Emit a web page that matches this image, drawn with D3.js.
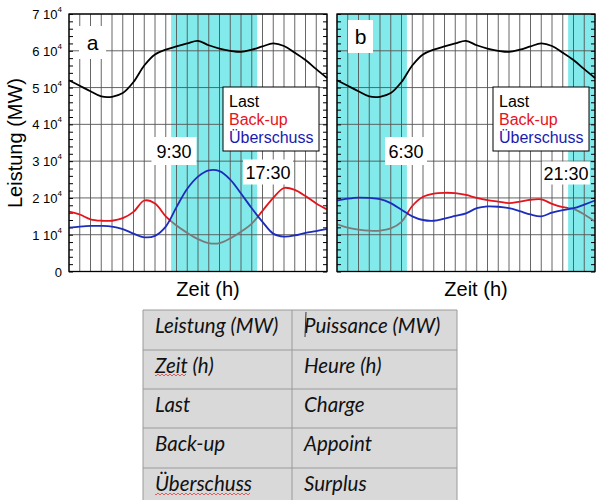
<!DOCTYPE html>
<html>
<head>
<meta charset="utf-8">
<script src="https://cdn.jsdelivr.net/npm/d3@7"></script>
<style>
  body { margin: 0; background: #fff; }
  svg { display: block; }
</style>
</head>
<body>
<div id="chart"></div>
<script>
// hours of the day
const hours = [0, 1, 2, 3, 4, 5, 6, 7, 8, 9, 10, 11, 12, 13, 14, 15, 16, 17, 18, 19, 20, 21, 22, 23, 24];

// load (MW), same in both panels
const last = [52000, 50500, 49000, 47600, 47500, 48500, 51500, 56000, 59000, 60300, 61200, 62000, 62700,
  61500, 60600, 60000, 59700, 60300, 61200, 62000, 61300, 59500, 57500, 55000, 52600];

// panel a
const backupA = [16300, 15500, 14200, 13800, 13800, 14500, 16200, 19300, 18500, 15000, 12500, 10500, 8800,
  7700, 7700, 9000, 10800, 13000, 16500, 20000, 22700, 22200, 20500, 18500, 16900];
const surplusA = [11900, 12200, 12400, 12400, 12200, 11500, 10300, 9300, 9700, 12200, 17500, 22500, 25800,
  27500, 27300, 25000, 21200, 17200, 13500, 10300, 9500, 9800, 10500, 11000, 11600];

// panel b
const backupB = [12800, 11900, 11400, 11100, 11100, 11700, 13500, 17800, 20300, 21200, 21400, 21300, 20800,
  20000, 19400, 19000, 18600, 19000, 19500, 19600, 18400, 17500, 17000, 15500, 13600];
const surplusB = [19300, 19800, 20100, 20000, 19700, 18600, 16800, 15000, 14000, 13800, 14400, 15100, 15800,
  17200, 17700, 17600, 17200, 16400, 15500, 15000, 16000, 16700, 17200, 18200, 19300];

// surplus periods (h)
const surplusPeriodsA = [[9.5, 17.5]];
const surplusPeriodsB = [[0, 6.5], [21.5, 24]];

const yTicks = [0, 10000, 20000, 30000, 40000, 50000, 60000, 70000];
const legendLabels = ["Last", "Back-up", "Überschuss"];

const tableRows = [
  ["Leistung (MW)", "Puissance (MW)"],
  ["Zeit (h)", "Heure (h)"],
  ["Last", "Charge"],
  ["Back-up", "Appoint"],
  ["Überschuss", "Surplus"]
];

const W = 600, H = 500;
const pw = 258, ph = 257.5;
const topY = 14;
const colors = { last: "#000", backup: "#e3141c", surplus: "#1c2cbc", gray: "#7a7a7a", cyan: "#82eaea" };

const svg = d3.select("#chart").append("svg").attr("width", W).attr("height", H);

const x = d3.scaleLinear().domain([0, 24]).range([0, pw]);
const y = d3.scaleLinear().domain([0, 70000]).range([ph, 0]);

const line = d3.line()
  .x((d, i) => x(hours[i]))
  .y(d => y(d))
  .curve(d3.curveCatmullRom.alpha(0.5));

function drawPanel(id, left, backup, surplus, periods, letterBox, cutLabels, legendX) {
  const g = svg.append("g").attr("transform", `translate(${left},${topY})`);

  // cyan surplus periods
  g.selectAll("rect.per").data(periods).join("rect")
    .attr("class", "per")
    .attr("x", d => x(d[0])).attr("width", d => x(d[1]) - x(d[0]))
    .attr("y", 0).attr("height", ph)
    .attr("fill", colors.cyan);

  // grid
  g.append("g").selectAll("line").data(hours).join("line")
    .attr("x1", d => x(d)).attr("x2", d => x(d))
    .attr("y1", 0).attr("y2", ph)
    .attr("stroke", "#555").attr("stroke-width", 0.9);
  g.append("g").selectAll("line").data(yTicks).join("line")
    .attr("x1", 0).attr("x2", pw)
    .attr("y1", d => y(d)).attr("y2", d => y(d))
    .attr("stroke", "#555").attr("stroke-width", 0.9);

  // minor ticks on left / right
  const minor = y.ticks(35);
  g.append("g").call(d3.axisLeft(y).tickValues(minor).tickSize(-4).tickFormat(""))
    .call(a => a.select(".domain").remove());
  g.append("g").attr("transform", `translate(${pw},0)`)
    .call(d3.axisRight(y).tickValues(minor).tickSize(-4).tickFormat(""))
    .call(a => a.select(".domain").remove());

  // white label boxes
  const lb = g.append("g");
  lb.append("rect")
    .attr("x", letterBox.x - left).attr("y", letterBox.y - topY)
    .attr("width", letterBox.w).attr("height", letterBox.h).attr("fill", "#fff");
  lb.append("text")
    .attr("x", letterBox.x - left + letterBox.w / 2).attr("y", letterBox.y - topY + letterBox.h / 2 + 7)
    .attr("text-anchor", "middle")
    .attr("font-family", "Liberation Sans, Arial, sans-serif").attr("font-size", 21)
    .text(id);

  cutLabels.forEach(c => {
    g.append("rect")
      .attr("x", c.cx - left - c.w / 2).attr("y", c.cy - topY - c.h / 2)
      .attr("width", c.w).attr("height", c.h).attr("fill", "#fff");
    g.append("text")
      .attr("x", c.cx - left).attr("y", c.cy - topY + 6.5)
      .attr("text-anchor", "middle")
      .attr("font-family", "Liberation Sans, Arial, sans-serif").attr("font-size", 18)
      .text(c.text);
  });

  // legend
  const lg = g.append("g").attr("transform", `translate(${legendX - left},${87 - topY})`);
  lg.append("rect").attr("width", 96).attr("height", 64)
    .attr("fill", "#fff").attr("stroke", "#000").attr("stroke-width", 1);
  lg.selectAll("text").data(legendLabels).join("text")
    .attr("x", 6).attr("y", (d, i) => 20 + i * 18)
    .attr("font-family", "Liberation Sans, Arial, sans-serif").attr("font-size", 16)
    .attr("fill", (d, i) => [colors.last, colors.backup, "#1a1ab0"][i])
    .text(d => d);

  // clip paths: inside / outside surplus periods
  const inside = svg.append("clipPath").attr("id", "in" + id);
  inside.selectAll("rect").data(periods).join("rect")
    .attr("x", d => x(d[0])).attr("width", d => x(d[1]) - x(d[0]))
    .attr("y", -5).attr("height", ph + 10);
  const gaps = [];
  let s = 0;
  periods.forEach(p => { if (p[0] > s) gaps.push([s, p[0]]); s = p[1]; });
  if (s < 24) gaps.push([s, 24]);
  const outside = svg.append("clipPath").attr("id", "out" + id);
  outside.selectAll("rect").data(gaps).join("rect")
    .attr("x", d => x(d[0])).attr("width", d => x(d[1]) - x(d[0]))
    .attr("y", -5).attr("height", ph + 10);

  // series
  g.append("path").datum(backup).attr("d", line).attr("fill", "none")
    .attr("stroke", colors.backup).attr("stroke-width", 1.8).attr("clip-path", `url(#out${id})`);
  g.append("path").datum(backup).attr("d", line).attr("fill", "none")
    .attr("stroke", colors.gray).attr("stroke-width", 1.8).attr("clip-path", `url(#in${id})`);
  g.append("path").datum(surplus).attr("d", line).attr("fill", "none")
    .attr("stroke", colors.surplus).attr("stroke-width", 1.8);
  g.append("path").datum(last).attr("d", line).attr("fill", "none")
    .attr("stroke", colors.last).attr("stroke-width", 1.8);

  // frame
  g.append("rect").attr("width", pw).attr("height", ph)
    .attr("fill", "none").attr("stroke", "#000").attr("stroke-width", 1.3);

  // x axis title
  g.append("text")
    .attr("x", pw / 2 + 10).attr("y", 296 - topY)
    .attr("text-anchor", "middle")
    .attr("font-family", "Liberation Sans, Arial, sans-serif").attr("font-size", 20)
    .text("Zeit (h)");
}

drawPanel("a", 69, backupA, surplusA, surplusPeriodsA,
  { x: 79, y: 26, w: 27, h: 33 },
  [{ text: "9:30", cx: 174, cy: 151, w: 45, h: 28 }, { text: "17:30", cx: 268, cy: 172, w: 50, h: 25 }],
  223);
drawPanel("b", 337, backupB, surplusB, surplusPeriodsB,
  { x: 348, y: 20, w: 25, h: 33 },
  [{ text: "6:30", cx: 406, cy: 151, w: 42, h: 28 }, { text: "21:30", cx: 566, cy: 173, w: 48, h: 23 }],
  493);

// y tick labels
const yl = svg.append("g").attr("font-family", "Liberation Sans, Arial, sans-serif");
yTicks.forEach(v => {
  const t = yl.append("text")
    .attr("x", 62).attr("y", topY + y(v) + 5)
    .attr("text-anchor", "end").attr("font-size", 13);
  if (v === 0) { t.text("0"); return; }
  t.append("tspan").text(`${v / 10000} 10`);
  t.append("tspan").attr("font-size", 8).attr("dy", -7).text("4");
});

// y axis title
svg.append("text")
  .attr("transform", "translate(22,143) rotate(-90)")
  .attr("text-anchor", "middle")
  .attr("font-family", "Liberation Sans, Arial, sans-serif").attr("font-size", 20)
  .text("Leistung (MW)");

// translation table
const tx = 143, tw = 314, colSplit = 292;
const rowTops = [310, 350, 389, 428, 468, 500];
const tbl = svg.append("g");
tbl.append("rect").attr("x", tx).attr("y", rowTops[0])
  .attr("width", tw).attr("height", rowTops[5] - rowTops[0]).attr("fill", "#d9d9d9");
tbl.selectAll("line.h").data(rowTops.slice(0, 5)).join("line")
  .attr("x1", tx).attr("x2", tx + tw).attr("y1", d => d).attr("y2", d => d)
  .attr("stroke", "#9a9a9a").attr("stroke-width", 1);
[tx, colSplit, tx + tw].forEach(xx => {
  tbl.append("line").attr("x1", xx).attr("x2", xx).attr("y1", rowTops[0]).attr("y2", H)
    .attr("stroke", "#9a9a9a").attr("stroke-width", 1);
});
tableRows.forEach((r, i) => {
  [0, 1].forEach(c => {
    tbl.append("text")
      .attr("x", c === 0 ? 155 : 304).attr("y", rowTops[i] + 23)
      .attr("font-family", "Lato, 'Noto Sans', sans-serif").attr("font-style", "italic")
      .attr("font-size", 20.5).attr("fill", "#111")
      .text(r[c]);
  });
});
// spell-check squiggles
function squiggle(x0, x1, yy) {
  let d = `M${x0},${yy}`;
  for (let xx = x0; xx < x1; xx += 2) d += `L${xx + 1},${yy + (((xx - x0) / 2) % 2 === 0 ? 1 : -1)}`;
  tbl.append("path").attr("d", d).attr("fill", "none").attr("stroke", "#e04040").attr("stroke-width", 0.8);
}
squiggle(155, 186, 375);
squiggle(155, 251, 494);
// text cursor
tbl.append("line").attr("x1", 306).attr("x2", 305).attr("y1", 312).attr("y2", 337)
  .attr("stroke", "#333").attr("stroke-width", 1);
</script>
</body>
</html>
